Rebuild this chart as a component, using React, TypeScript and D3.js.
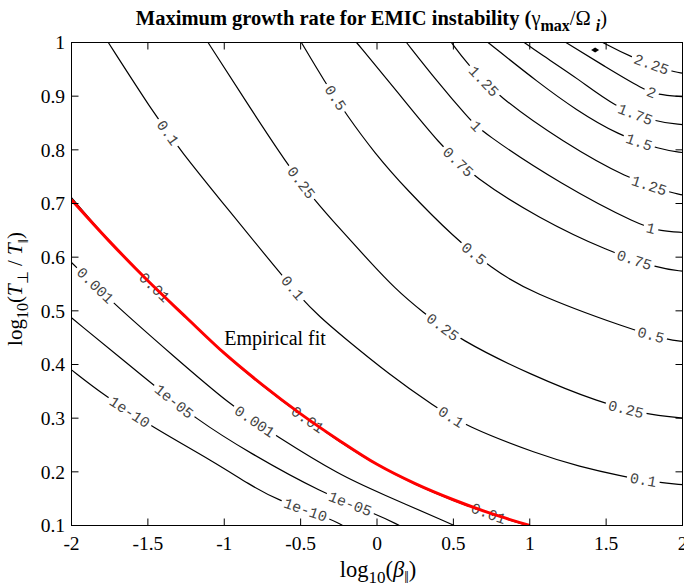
import React from 'react';
import * as d3 from 'd3';

type Pt = [number, number];

const W = 684;
const H = 588;

const xTickValues = [-2, -1.5, -1, -0.5, 0, 0.5, 1, 1.5, 2];
const xTickLabels = ['-2', '-1.5', '-1', '-0.5', '0', '0.5', '1', '1.5', '2'];
const yTickValues = [0.1, 0.2, 0.3, 0.4, 0.5, 0.6, 0.7, 0.8, 0.9, 1];
const yTickLabels = ['0.1', '0.2', '0.3', '0.4', '0.5', '0.6', '0.7', '0.8', '0.9', '1'];

// contour levels (label text)
const levelNames = ['1e-10', '1e-05', '0.001', '0.01', '0.1', '0.25', '0.5', '0.75', '1', '1.25', '1.5', '1.75', '2', '2.25'];

// contour polylines: [log10(beta), log10(Tperp/Tpar)]
const c1e10: Pt[] = [[-2.0, 0.39], [-1.794, 0.344], [-1.474, 0.284], [-1.069, 0.219], [-0.833, 0.176], [-0.659, 0.148], [-0.31, 0.113], [-0.225, 0.1]];
const c1e05: Pt[] = [[-2.0, 0.487], [-1.507, 0.372], [-1.18, 0.297], [-0.833, 0.235], [-0.363, 0.161], [-0.003, 0.121], [0.147, 0.1]];
const c001: Pt[] = [[-2.0, 0.59], [-1.703, 0.508], [-1.337, 0.417], [-0.964, 0.325], [-0.657, 0.266], [-0.232, 0.192], [0.016, 0.161], [0.506, 0.1]];
const c01: Pt[] = [[-2.0, 0.711], [-1.75, 0.628], [-1.5, 0.555], [-1.25, 0.487], [-1.0, 0.419], [-0.75, 0.36], [-0.5, 0.306], [-0.25, 0.257], [0.0, 0.212], [0.25, 0.176], [0.5, 0.146], [0.75, 0.12], [1.0, 0.099]];
const c1: Pt[] = [[-1.759, 1.0], [-1.454, 0.865], [-1.291, 0.8], [-0.964, 0.685], [-0.637, 0.571], [-0.507, 0.527], [-0.376, 0.489], [-0.232, 0.454], [0.082, 0.381], [0.376, 0.322], [0.572, 0.286], [1.062, 0.232], [1.324, 0.21], [1.598, 0.192], [1.84, 0.18], [2.0, 0.176]];
const c25: Pt[] = [[-1.106, 1.0], [-0.853, 0.888], [-0.593, 0.775], [-0.409, 0.706], [-0.236, 0.651], [-0.049, 0.592], [0.116, 0.542], [0.291, 0.499], [0.541, 0.446], [1.003, 0.381], [1.467, 0.328], [1.75, 0.308], [2.0, 0.3]];
const c50: Pt[] = [[-0.495, 1.0], [-0.343, 0.927], [-0.199, 0.865], [-0.016, 0.794], [0.193, 0.726], [0.507, 0.636], [0.748, 0.58], [0.988, 0.536], [1.663, 0.465], [1.905, 0.446], [2.0, 0.443]];
const c75: Pt[] = [[-0.134, 1.0], [0.134, 0.908], [0.41, 0.81], [0.637, 0.748], [1.062, 0.672], [1.511, 0.611], [1.859, 0.578], [2.0, 0.574]];
const c100: Pt[] = [[0.193, 1.0], [0.395, 0.927], [0.596, 0.86], [0.683, 0.834], [1.206, 0.735], [1.729, 0.658], [1.859, 0.649], [2.0, 0.646]];
const c125: Pt[] = [[0.487, 1.0], [0.585, 0.962], [0.794, 0.899], [1.219, 0.814], [1.642, 0.746], [1.925, 0.72], [2.0, 0.716]];
const c150: Pt[] = [[0.727, 1.0], [1.062, 0.924], [1.3, 0.875], [1.576, 0.828], [1.859, 0.8], [2.0, 0.795]];
const c175: Pt[] = [[0.964, 1.0], [1.062, 0.98], [1.324, 0.931], [1.552, 0.881], [1.814, 0.852], [2.0, 0.847]];
const c200: Pt[] = [[1.237, 1.0], [1.493, 0.955], [1.748, 0.912], [1.833, 0.903], [2.0, 0.899]];
const c225: Pt[] = [[1.478, 1.0], [1.65, 0.974], [1.923, 0.946], [2.0, 0.943]];

// label centres for each contour
const l1e10: Pt[] = [[-1.618, 0.312], [-0.467, 0.13]];
const l1e05: Pt[] = [[-1.324, 0.333], [-0.18, 0.137]];
const l001: Pt[] = [[-1.846, 0.547], [-0.801, 0.294]];
const l01: Pt[] = [[-1.454, 0.545], [-0.454, 0.297], [0.735, 0.126]];
const l1: Pt[] = [[-1.368, 0.832], [-0.559, 0.541], [0.487, 0.303], [1.742, 0.183]];
const l25: Pt[] = [[-0.5, 0.738], [0.428, 0.469], [1.631, 0.318]];
const l50: Pt[] = [[-0.271, 0.897], [0.624, 0.603], [1.794, 0.456]];
const l75: Pt[] = [[0.526, 0.776], [1.683, 0.593]];
const l100: Pt[] = [[0.644, 0.843], [1.794, 0.655]];
const l125: Pt[] = [[0.696, 0.927], [1.781, 0.733]];
const l150: Pt[] = [[1.716, 0.815]];
const l175: Pt[] = [[1.69, 0.865]];
const l200: Pt[] = [[1.794, 0.905]];
const l225: Pt[] = [[1.794, 0.957]];

const contourLines = [c1e10, c1e05, c001, c01, c1, c25, c50, c75, c100, c125, c150, c175, c200, c225];
const contourLabels = [l1e10, l1e05, l001, l01, l1, l25, l50, l75, l100, l125, l150, l175, l200, l225];

// maximum marker
const maxPoint: Pt = [1.428, 0.986];

// empirical fit curve
const fitX = [-2, -1.75, -1.5, -1.25, -1, -0.75, -0.5, -0.25, 0, 0.25, 0.5, 0.75, 1];
const fitY = [0.707, 0.629, 0.556, 0.488, 0.421, 0.362, 0.308, 0.259, 0.214, 0.178, 0.148, 0.122, 0.1];
const fitLabelPos: Pt = [-1.0, 0.436];

const x = d3.scaleLinear().domain([-2, 2]).range([71.5, 682.5]);
const y = d3.scaleLinear().domain([0.1, 1]).range([525.5, 42.5]);

const SERIF = '"Liberation Serif", "Times New Roman", Times, serif';
const MONO = '"Liberation Mono", "Courier New", monospace';
const LABEL_FS = 15;
const TICK_FS = 19.5;
const AXIS_FS = 21;

function snap(poly: [number, number][], c: [number, number]) {
  let best = { d: Infinity, px: c[0], py: c[1], ang: 0 };
  for (let i = 0; i < poly.length - 1; i++) {
    const [x1, y1] = poly[i];
    const [x2, y2] = poly[i + 1];
    const dx = x2 - x1, dy = y2 - y1;
    const L2 = dx * dx + dy * dy;
    let t = L2 > 0 ? ((c[0] - x1) * dx + (c[1] - y1) * dy) / L2 : 0;
    t = Math.max(0, Math.min(1, t));
    const px = x1 + t * dx, py = y1 + t * dy;
    const d = Math.hypot(c[0] - px, c[1] - py);
    if (d < best.d) {
      let ang = (Math.atan2(dy, dx) * 180) / Math.PI;
      if (ang > 90) ang -= 180;
      if (ang < -90) ang += 180;
      best = { d, px, py, ang };
    }
  }
  return best;
}

export default function App() {
  const contourPath = d3
    .line<Pt>()
    .x((d) => x(d[0]))
    .y((d) => y(d[1]))
    .curve(d3.curveBasis);
  const fitPath = d3
    .line<Pt>()
    .x((d) => x(d[0]))
    .y((d) => y(d[1]))
    .curve(d3.curveCatmullRom.alpha(0.5));

  const fitPts: Pt[] = fitX.map((v, i) => [v, fitY[i]]);

  const [x0, x1] = x.range();
  const [y1, y0] = y.range();
  const tickLen = 7;

  return (
    <svg width={W} height={H} style={{ position: 'absolute', left: 0, top: 0, background: '#fff' }}>
      <defs>
        <clipPath id="plotclip">
          <rect x={x0} y={y0} width={x1 - x0} height={y1 - y0} />
        </clipPath>
      </defs>
      <rect x={0} y={0} width={W} height={H} fill="#fff" />

      {/* contours */}
      <g clipPath="url(#plotclip)">
        {contourLines.map((pts, i) => {
          const poly = pts.map((p) => [x(p[0]), y(p[1])] as [number, number]);
          const name = levelNames[i];
          const tl = name.length * 0.6 * LABEL_FS;
          const spots = contourLabels[i].map((c) => snap(poly, [x(c[0]), y(c[1])]));
          return (
            <g key={i}>
              <mask id={`mask${i}`} maskUnits="userSpaceOnUse" x={0} y={0} width={W} height={H}>
                <rect x={0} y={0} width={W} height={H} fill="white" />
                {spots.map((s, j) => (
                  <rect
                    key={j}
                    x={-tl / 2 - 3}
                    y={-8}
                    width={tl + 6}
                    height={16}
                    fill="black"
                    transform={`translate(${s.px},${s.py}) rotate(${s.ang})`}
                  />
                ))}
              </mask>
              <path d={contourPath(pts) || ''} fill="none" stroke="#000" strokeWidth={1.2} mask={`url(#mask${i})`} />
              {spots.map((s, j) => (
                <text
                  key={j}
                  transform={`translate(${s.px},${s.py}) rotate(${s.ang})`}
                  textAnchor="middle"
                  dy="0.32em"
                  fontFamily={MONO}
                  fontSize={LABEL_FS}
                  fill="#444"
                >
                  {name}
                </text>
              ))}
            </g>
          );
        })}
        <path
          d={`M${x(maxPoint[0]) - 4},${y(maxPoint[1])}L${x(maxPoint[0])},${y(maxPoint[1]) - 2.5}L${x(maxPoint[0]) + 4},${y(maxPoint[1])}L${x(maxPoint[0])},${y(maxPoint[1]) + 2.5}Z`}
          fill="#000"
        />
        <path d={fitPath(fitPts) || ''} fill="none" stroke="#ff0000" strokeWidth={3} />
      </g>

      <text x={x(fitLabelPos[0])} y={y(fitLabelPos[1])} textAnchor="start" fontFamily={SERIF} fontSize={20} fill="#000">
        Empirical fit
      </text>

      {/* frame */}
      <rect x={x0} y={y0} width={x1 - x0} height={y1 - y0} fill="none" stroke="#000" strokeWidth={1} />

      {/* ticks */}
      {xTickValues.map((v, i) => (
        <g key={`xt${i}`}>
          <line x1={x(v)} x2={x(v)} y1={y1} y2={y1 - tickLen} stroke="#000" />
          <line x1={x(v)} x2={x(v)} y1={y0} y2={y0 + tickLen} stroke="#000" />
          <text x={x(v)} y={550} textAnchor="middle" fontFamily={SERIF} fontSize={TICK_FS} fill="#000">
            {xTickLabels[i]}
          </text>
        </g>
      ))}
      {yTickValues.map((v, i) => (
        <g key={`yt${i}`}>
          <line x1={x0} x2={x0 + tickLen} y1={y(v)} y2={y(v)} stroke="#000" />
          <line x1={x1} x2={x1 - tickLen} y1={y(v)} y2={y(v)} stroke="#000" />
          <text x={65} y={y(v)} dy="0.35em" textAnchor="end" fontFamily={SERIF} fontSize={TICK_FS} fill="#000">
            {yTickLabels[i]}
          </text>
        </g>
      ))}

      {/* axis titles */}
      <text x={378} y={577} textAnchor="middle" fontFamily={SERIF} fontSize={22.5} fill="#000">
        <tspan>log</tspan>
        <tspan dy={6} fontSize={17}>10</tspan>
        <tspan dy={-6}>(</tspan>
        <tspan fontStyle="italic">β</tspan>
        <tspan dy={6} fontSize={16}>‖</tspan>
        <tspan dy={-6}>)</tspan>
      </text>
      <text transform="translate(22,289) rotate(-90)" textAnchor="middle" fontFamily={SERIF} fontSize={AXIS_FS} fill="#000">
        <tspan>log</tspan>
        <tspan dy={6} fontSize={16}>10</tspan>
        <tspan dy={-6}>(</tspan>
        <tspan fontStyle="italic">T</tspan>
        <tspan dy={6} fontSize={15}>⊥</tspan>
        <tspan dy={-6}> / </tspan>
        <tspan fontStyle="italic">T</tspan>
        <tspan dy={6} fontSize={15}>‖</tspan>
        <tspan dy={-6}>)</tspan>
      </text>

      {/* title */}
      <text x={371.5} y={25} textAnchor="middle" fontFamily={SERIF} fontSize={20.5} fontWeight="bold" fill="#000">
        <tspan>Maximum growth rate for EMIC instability (</tspan>
        <tspan fontWeight="normal">γ</tspan>
        <tspan dy={6} fontSize={16}>max</tspan>
        <tspan dy={-6} fontWeight="normal">/Ω </tspan>
        <tspan dy={6} fontSize={16} fontStyle="italic">i</tspan>
        <tspan dy={-6} fontWeight="normal">)</tspan>
      </text>
    </svg>
  );
}
